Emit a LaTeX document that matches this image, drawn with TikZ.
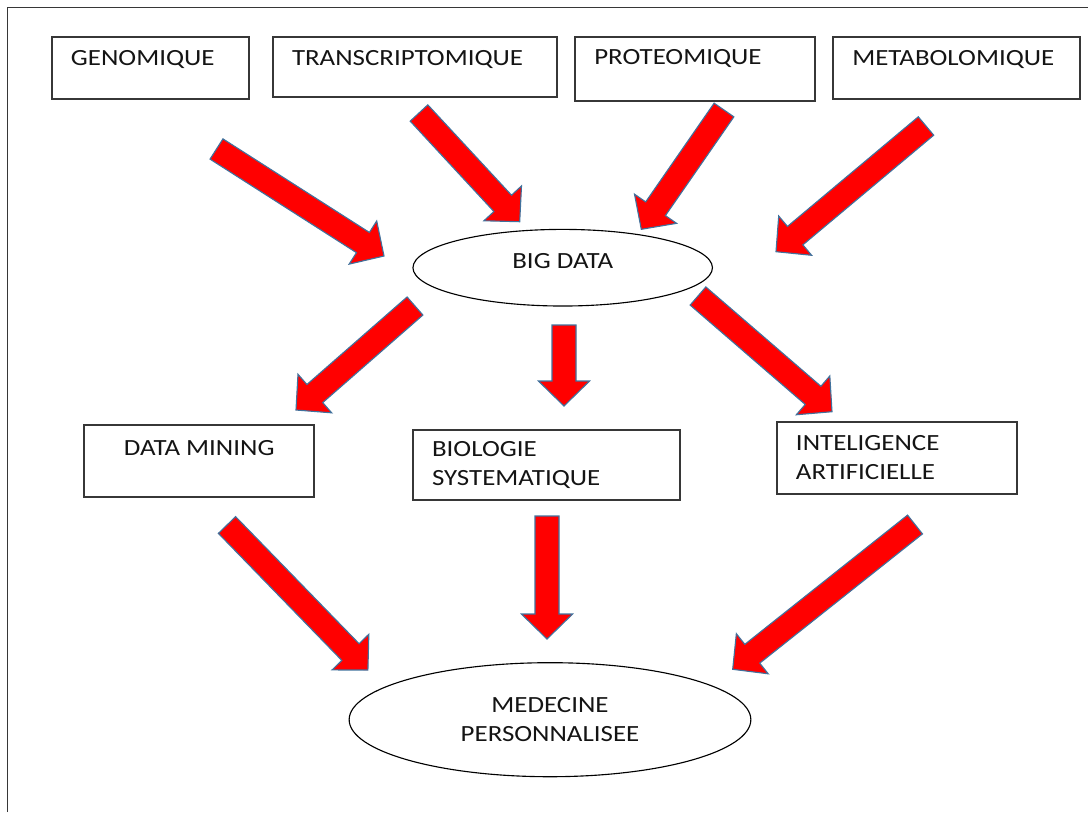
\documentclass[tikz,border=0pt]{standalone}
\usepackage{fontspec}
\setmainfont{Carlito}[FakeStretch=1.16]
\usepackage{tikz}
\usetikzlibrary{calc,shapes.geometric}
\usepackage{xcolor}
\definecolor{edge}{RGB}{55,55,55}
\definecolor{arrowline}{RGB}{65,113,156}
\definecolor{ink}{RGB}{20,20,20}

% fat red block arrow from tail #1 to tip #2
\newcommand{\redarrow}[2]{%
  \coordinate (hd) at ($(#2)!0.625cm!(#1)$);
  \filldraw[fill=red,draw=arrowline,line width=0.8pt,line join=miter]
    ($(#1)!0.3cm!90:(#2)$) -- ($(hd)!0.3cm!90:(#2)$) -- ($(hd)!0.64cm!90:(#2)$)
    -- (#2) -- ($(hd)!0.64cm!-90:(#2)$) -- ($(hd)!0.3cm!-90:(#2)$)
    -- ($(#1)!0.3cm!-90:(#2)$) -- cycle;}

\begin{document}
\begin{tikzpicture}[x=0.025cm,y=-0.025cm,
    every node/.style={text=ink,font=\fontsize{16.5pt}{20.6pt}\selectfont},
    box/.style={rectangle,draw=edge,line width=1.3pt,inner xsep=0.475cm,inner ysep=0pt,align=left},
    omicsbox/.style={box,text height=0.7cm,text depth=0.85cm},
    blob/.style={ellipse,draw=black,line width=0.8pt,inner sep=0pt,align=center}]
  \useasboundingbox (0,0) rectangle (1088,812);
  % page frame (open on the right and at the bottom)
  \draw[edge,line width=1.4pt] (7.5,812) -- (7.5,7.5) -- (1088,7.5);

  % omics sources
  \node[omicsbox,text width=3.975cm] (gen) at (150.5,68) {GENOMIQUE};
  \node[omicsbox,text width=6.1575cm,text depth=0.8cm] (trans) at (415.2,67) {TRANSCRIPTOMIQUE};
  \node[omicsbox,text width=5.05cm,text depth=0.9cm] (prot) at (695.3,68.7) {PROTEOMIQUE};
  \node[omicsbox,text width=5.225cm] (meta) at (956.8,68) {METABOLOMIQUE};

  % hub
  \node[blob,minimum width=7.485cm,minimum height=1.915cm,text depth=0.32cm] (bd) at (562.7,267.7) {BIG DATA};

  % methods
  \node[box,align=center,minimum width=5.7575cm,text height=0.7575cm,text depth=1.035cm] (dm) at (199.2,460.8) {DATA MINING};
  \node[box,text width=5.7325cm,minimum height=1.7575cm] (bio) at (546.7,465.2) {BIOLOGIE\\SYSTEMATIQUE};
  \node[box,text width=5.05cm,minimum height=1.815cm] (ia) at (897,458) {INTELIGENCE\\ARTIFICIELLE};

  % outcome
  \node[blob,minimum width=10.04cm,minimum height=2.85cm] (med) at (550,719.7) {MEDECINE\\PERSONNALISEE};

  % arrow tails and tips
  \coordinate (gen-t) at (216.5,149);  \coordinate (gen-h) at (384,256);
  \coordinate (trans-t) at (419,113);  \coordinate (trans-h) at (519.7,221.7);
  \coordinate (prot-t) at (724,110);   \coordinate (prot-h) at (641.3,229.3);
  \coordinate (meta-t) at (926,126);   \coordinate (meta-h) at (776,251.7);
  \coordinate (dm-t) at (415,306);     \coordinate (dm-h) at (296,410);
  \coordinate (bio-t) at (564,325);    \coordinate (bio-h) at (564,406);
  \coordinate (ia-t) at (698,296);     \coordinate (ia-h) at (832,411.7);
  \coordinate (dmo-t) at (227,525);    \coordinate (dmo-h) at (367.9,670);
  \coordinate (bioo-t) at (547,516);   \coordinate (bioo-h) at (547,639);
  \coordinate (iao-t) at (915,524.5);  \coordinate (iao-h) at (732.7,669.3);

  \foreach \n in {gen,trans,prot,meta,dm,bio,ia,dmo,bioo,iao}
    \redarrow{\n-t}{\n-h};
\end{tikzpicture}
\end{document}
